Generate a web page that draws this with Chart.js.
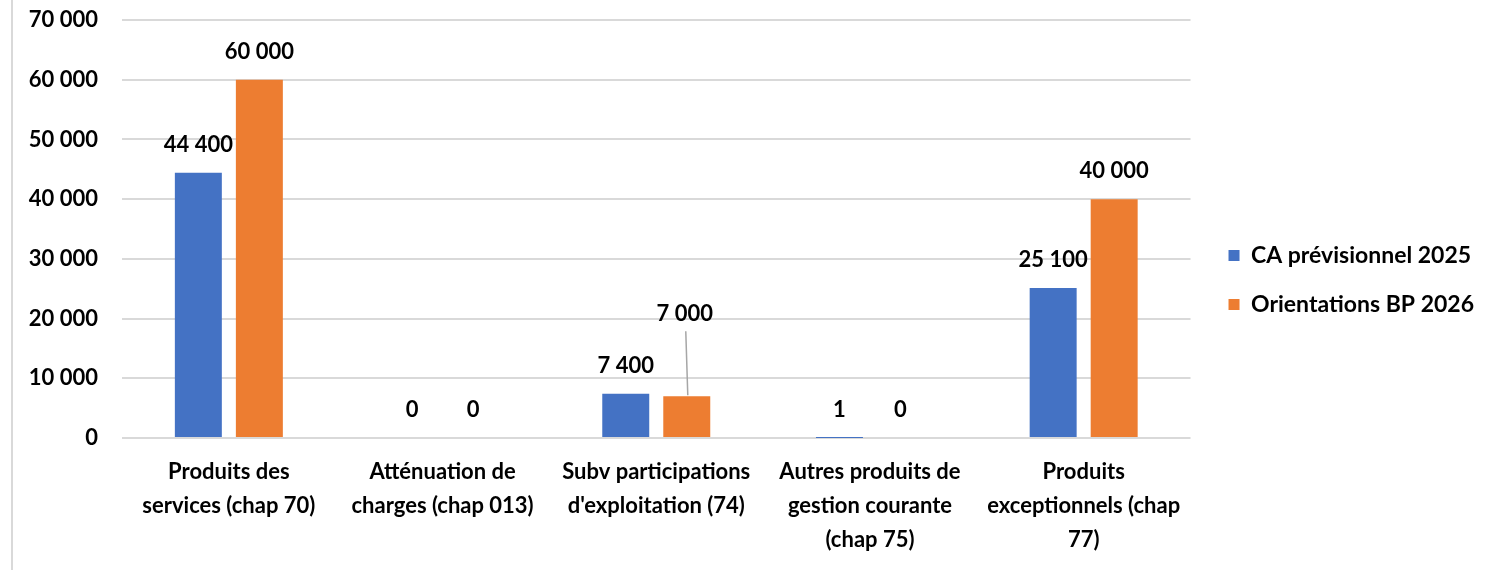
<!DOCTYPE html>
<html>
<head>
<meta charset="utf-8">
<script src="https://cdn.jsdelivr.net/npm/chart.js@4"></script>
<style>
  html, body { margin: 0; padding: 0; background: #fff; }
  #wrap { position: relative; width: 1498px; height: 570px; }
  #edge { position: absolute; left: 11px; top: 0; width: 2px; height: 570px; background: #d9d9d9; }
</style>
</head>
<body>
<div id="wrap">
  <div id="edge"></div>
  <canvas id="chart" width="1498" height="570"></canvas>
</div>
<script>
// categories and series
const categories = [
    ['Produits des', 'services (chap 70)'],
    ['Atténuation de', 'charges (chap 013)'],
    ['Subv participations', "d'exploitation (74)"],
    ['Autres produits de', 'gestion courante', '(chap 75)'],
    ['Produits', 'exceptionnels (chap', '77)']
];
const seriesNames = ['CA prévisionnel 2025', 'Orientations BP 2026'];
const ca2025 = [44400, 0, 7400, 1, 25100];
const bp2026 = [60000, 0, 7000, 0, 40000];
const yMin = 0;
const yMax = 70000;
const yStep = 10000;

const FONT = 'Lato, "Liberation Sans", sans-serif';
const FSIZE = 22;

function fmt(n) {
    return String(n).replace(/\B(?=(\d{3})+(?!\d))/g, ' ');
}

// labels that sit higher with a leader line (datasetIndex-index -> extra lift in px)
const calloutLift = { '1-2': 54 };

const valueLabels = {
    id: 'valueLabels',
    afterDatasetsDraw(chart) {
        const ctx = chart.ctx;
        ctx.save();
        ctx.font = 'bold ' + FSIZE + 'px ' + FONT;
        ctx.fillStyle = '#000';
        ctx.textAlign = 'center';
        ctx.textBaseline = 'middle';
        chart.data.datasets.forEach((ds, di) => {
            chart.getDatasetMeta(di).data.forEach((bar, i) => {
                const lift = calloutLift[di + '-' + i] || 0;
                const y = bar.y - 28 - lift;
                if (lift) {
                    ctx.strokeStyle = '#a6a6a6';
                    ctx.lineWidth = 1.5;
                    ctx.beginPath();
                    ctx.moveTo(bar.x - 1, y + 17);
                    ctx.lineTo(bar.x + 1, bar.y - 1);
                    ctx.stroke();
                }
                ctx.fillText(fmt(ds.data[i]), bar.x - (lift ? 2 : 0), y);
            });
        });
        ctx.restore();
    }
};

// push the legend a bit away from the plot
const legendNudge = {
    id: 'legendNudge',
    afterLayout(chart) {
        chart.legend.left += 12;
        chart.legend.right += 12;
    }
};

document.addEventListener('DOMContentLoaded', () => {
    const ctx = document.getElementById('chart');
    new Chart(ctx, {
        type: 'bar',
        data: {
            labels: categories,
            datasets: [{
                label: seriesNames[0],
                data: ca2025,
                backgroundColor: '#4472C4',
                inflateAmount: 0
            }, {
                label: seriesNames[1],
                data: bp2026,
                backgroundColor: '#ED7D31',
                inflateAmount: 0
            }]
        },
        options: {
            responsive: false,
            animation: false,
            categoryPercentage: 0.571,
            barPercentage: 0.77,
            layout: {
                padding: { top: 0, right: 26, bottom: 10, left: 0 }
            },
            plugins: {
                legend: {
                    position: 'right',
                    labels: {
                        boxWidth: 11,
                        boxHeight: 11,
                        padding: 26,
                        color: '#000',
                        font: { family: FONT, size: 23, weight: 'bold' }
                    }
                },
                tooltip: { enabled: false }
            },
            scales: {
                y: {
                    min: yMin,
                    max: yMax,
                    ticks: {
                        stepSize: yStep,
                        padding: 24,
                        color: '#000',
                        font: { family: FONT, size: FSIZE, weight: 'bold' },
                        callback: v => fmt(v)
                    },
                    grid: { color: '#d9d9d9', lineWidth: 2, drawTicks: false },
                    border: { display: false },
                    afterFit: s => { s.width = 122; s.paddingTop = 20; s.paddingBottom = 0; }
                },
                x: {
                    ticks: {
                        padding: 17,
                        maxRotation: 0,
                        autoSkip: false,
                        color: '#000',
                        font: { family: FONT, size: FSIZE, weight: 'bold', lineHeight: 34 / FSIZE }
                    },
                    grid: { display: false, drawTicks: false },
                    border: { display: false },
                    afterFit: s => { s.height = 122; }
                }
            }
        },
        plugins: [valueLabels, legendNudge]
    });
});
</script>
</body>
</html>
